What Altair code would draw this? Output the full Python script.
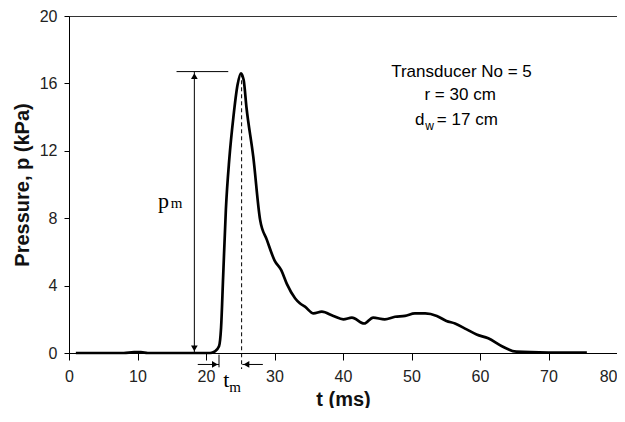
import altair as alt
import pandas as pd

# Pressure-time curve
t_ms = [1, 8, 9.5, 10.5, 11.5, 13, 20, 20.6, 21.3, 21.9, 22.2, 22.5, 22.9, 23.4, 24.0, 24.6,
        25.1, 25.5, 25.9, 26.9, 27.9, 28.9, 30.0, 31.0, 31.8, 33.0, 33.7, 34.45, 35.7, 36.9,
        38.6, 40.05, 41.3, 43.1, 44.4, 46.1, 47.6, 49.05, 50.5, 52.0, 53.7, 55.1, 56.35, 58.05,
        59.5, 61.2, 63.2, 65.3, 70, 75.6]
p_kpa = [0, 0, 0.05, 0.05, 0, 0, 0, 0, 0.1, 0.4, 1.5, 4.5, 8.5, 11.5, 14.0, 15.9,
         16.6, 16.2, 14.6, 11.65, 7.9, 6.7, 5.5, 4.9, 4.1, 3.25, 2.95, 2.75, 2.35, 2.45,
         2.2, 2.0, 2.1, 1.75, 2.1, 2.0, 2.15, 2.2, 2.35, 2.35, 2.2, 1.9, 1.75, 1.4,
         1.1, 0.87, 0.4, 0.08, 0.03, 0.02]

x_ticks = [0, 10, 20, 30, 40, 50, 60, 70, 80]
y_ticks = [0, 4, 8, 12, 16, 20]

# annotation values (data units)
pm_value = 16.7
pm_x = 18.3
peak_t = 25.2
cap_x = [15.7, 23.25]
tm_arrow_y = -0.68
tm_left = [18.8, 21.9]
tm_right = [25.3, 28.3]

curve = pd.DataFrame({"t": t_ms, "p": p_kpa})

W, H = 548, 337

xs = alt.Scale(domain=[0, 80], nice=False)
ys = alt.Scale(domain=[0, 20], nice=False)

base_x = alt.X("t:Q", scale=xs,
               axis=alt.Axis(values=x_ticks, title="t (ms)", format="d",
                             labelAlign={"condition": {"test": "datum.value === 80", "value": "right"},
                                         "value": "center"}))
base_y = alt.Y("p:Q", scale=ys,
               axis=alt.Axis(values=y_ticks, title="Pressure, p (kPa)", format="d"))

line = alt.Chart(curve).mark_line(color="black", strokeWidth=2.7, interpolate="monotone").encode(
    x=base_x, y=base_y)

def seg(df, dash=None, width=1.0):
    kw = dict(color="black", strokeWidth=width)
    if dash:
        kw["strokeDash"] = dash
    return alt.Chart(df).mark_rule(**kw).encode(
        x=alt.X("t:Q", scale=xs), y=alt.Y("p:Q", scale=ys),
        x2="t2:Q", y2="p2:Q")

segs = pd.DataFrame([
    {"t": cap_x[0], "p": pm_value, "t2": cap_x[1], "p2": pm_value},
    {"t": pm_x, "p": pm_value, "t2": pm_x, "p2": 0},
    {"t": tm_left[0], "p": tm_arrow_y, "t2": tm_left[1], "p2": tm_arrow_y},
    {"t": tm_left[1], "p": -0.1, "t2": tm_left[1], "p2": -0.85},
    {"t": tm_right[0], "p": tm_arrow_y, "t2": tm_right[1], "p2": tm_arrow_y},
])
dashed = pd.DataFrame([{"t": peak_t, "p": 16.6, "t2": peak_t, "p2": -0.95}])

heads = pd.DataFrame([
    {"t": pm_x, "p": pm_value - 0.27, "shape": "triangle-up"},
    {"t": pm_x, "p": 0.27, "shape": "triangle-down"},
    {"t": tm_left[1] - 0.6, "p": tm_arrow_y, "shape": "triangle-right"},
    {"t": tm_right[0] + 0.6, "p": tm_arrow_y, "shape": "triangle-left"},
])
arrowheads = alt.Chart(heads).mark_point(filled=True, color="black", size=45, opacity=1).encode(
    x=alt.X("t:Q", scale=xs), y=alt.Y("p:Q", scale=ys),
    shape=alt.Shape("shape:N", scale=None, legend=None))

def txt(df, **kw):
    return alt.Chart(df).mark_text(color="black", baseline="alphabetic", **kw).encode(
        x=alt.X("t:Q", scale=xs), y=alt.Y("p:Q", scale=ys), text="s:N")

serif_big = pd.DataFrame([{"t": 13.0, "p": 8.6, "s": "p"}, {"t": 22.5, "p": -2.0, "s": "t"}])
serif_small = pd.DataFrame([{"t": 14.85, "p": 8.6, "s": "m"}, {"t": 23.4, "p": -2.3, "s": "m"}])
info_center = pd.DataFrame([
    {"t": 57.3, "p": 16.36, "s": "Transducer No = 5"},
    {"t": 57.1, "p": 15.0, "s": "r = 30 cm"},
])
info_d = pd.DataFrame([{"t": 50.5, "p": 13.55, "s": "d"}])
info_w = pd.DataFrame([{"t": 52.0, "p": 13.22, "s": "w"}])
info_rest = pd.DataFrame([{"t": 53.7, "p": 13.55, "s": "= 17 cm"}])

layers = [
    line,
    seg(segs),
    seg(dashed, dash=[4, 3]),
    arrowheads,
    txt(serif_big, font="Liberation Serif", fontSize=22, align="left"),
    txt(serif_small, font="Liberation Serif", fontSize=15, align="left"),
    txt(info_center, font="Liberation Sans", fontSize=17),
    txt(info_d, font="Liberation Sans", fontSize=17, align="left"),
    txt(info_w, font="Liberation Sans", fontSize=12, align="left"),
    txt(info_rest, font="Liberation Sans", fontSize=17, align="left"),
]

chart = alt.layer(*layers).properties(
    width=W, height=H,
    autosize=alt.AutoSizeParams(type="none"),
    padding={"left": 61, "top": 8, "right": 0, "bottom": 55},
).configure_view(stroke="#333", strokeWidth=1).configure_axis(
    grid=False, domainColor="black", tickColor="black", labelColor="#222",
    labelFont="Liberation Sans", labelFontSize=16, titleFont="Liberation Sans",
    titleFontSize=20, titleFontWeight="bold", titleColor="#111",
).configure_axisX(tickSize=7, labelPadding=8, titlePadding=5, labelFlush=False
).configure_axisY(tickSize=5, labelPadding=7, titlePadding=7)

chart.save("out.html", embed_options={"renderer": "svg", "actions": False})
